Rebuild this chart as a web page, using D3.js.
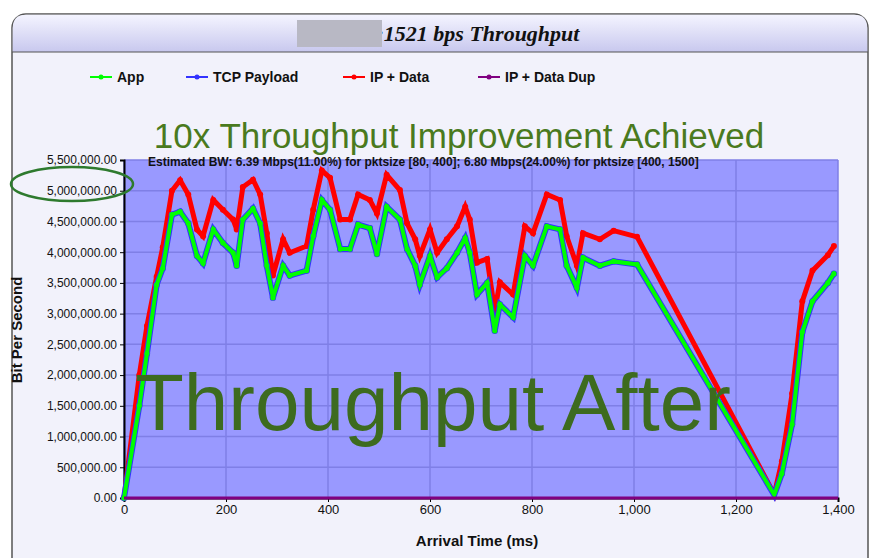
<!DOCTYPE html>
<html><head><meta charset="utf-8">
<script src="https://cdn.jsdelivr.net/npm/d3@7"></script>
<style>body{margin:0;background:#fff}svg{display:block}</style>
</head><body><div id="chart"></div>
<script>
// arrival time (ms) and throughput (bps)
const times = [0,30,45,64,76,94,110,126,143,155,175,194,214,221,233,253,267,280,292,312,325,358,371,388,404,424,443,459,482,496,515,541,555,571,580,600,614,633,653,669,678,692,712,727,737,763,786,802,829,855,868,888,900,933,960,1006,1275,1290,1310,1330,1350,1380,1392]
const ipData = [0,2.0e6,2.8e6,3.6e6,4.08e6,5.0e6,5.17e6,4.94e6,4.37e6,4.26e6,4.85e6,4.69e6,4.53e6,4.37e6,5.06e6,5.18e6,4.94e6,4.31e6,3.62e6,4.21e6,3.99e6,4.10e6,4.69e6,5.33e6,5.21e6,4.53e6,4.53e6,4.94e6,4.85e6,4.63e6,5.26e6,5.01e6,4.47e6,4.21e6,3.94e6,4.37e6,3.99e6,4.21e6,4.42e6,4.74e6,4.53e6,3.83e6,3.89e6,3.04e6,3.51e6,3.31e6,4.42e6,4.31e6,4.94e6,4.85e6,4.26e6,3.78e6,4.31e6,4.21e6,4.35e6,4.25e6,0.06e6,0.6e6,1.7e6,3.2e6,3.7e6,3.95e6,4.1e6]
const app = [0,1.5e6,2.35e6,3.47e6,3.74e6,4.61e6,4.66e6,4.47e6,3.94e6,3.82e6,4.37e6,4.15e6,3.99e6,3.78e6,4.53e6,4.71e6,4.47e6,3.78e6,3.26e6,3.78e6,3.62e6,3.70e6,4.26e6,4.85e6,4.69e6,4.05e6,4.05e6,4.45e6,4.39e6,3.97e6,4.74e6,4.53e6,4.05e6,3.78e6,3.47e6,3.94e6,3.59e6,3.74e6,3.99e6,4.23e6,3.99e6,3.31e6,3.50e6,2.72e6,3.15e6,2.94e6,3.94e6,3.78e6,4.42e6,4.37e6,3.78e6,3.42e6,3.91e6,3.78e6,3.85e6,3.8e6,0.05e6,0.4e6,1.2e6,2.7e6,3.2e6,3.5e6,3.65e6]
const tcpPayload = [0,1.5e6,2.35e6,3.47e6,3.74e6,4.61e6,4.66e6,4.47e6,3.94e6,3.82e6,4.37e6,4.15e6,3.99e6,3.78e6,4.53e6,4.71e6,4.47e6,3.78e6,3.26e6,3.78e6,3.62e6,3.70e6,4.26e6,4.85e6,4.69e6,4.05e6,4.05e6,4.45e6,4.39e6,3.97e6,4.74e6,4.53e6,4.05e6,3.78e6,3.47e6,3.94e6,3.59e6,3.74e6,3.99e6,4.23e6,3.99e6,3.31e6,3.50e6,2.72e6,3.15e6,2.94e6,3.94e6,3.78e6,4.42e6,4.37e6,3.78e6,3.42e6,3.91e6,3.78e6,3.85e6,3.8e6,0.05e6,0.4e6,1.2e6,2.7e6,3.2e6,3.5e6,3.65e6]
const dupTimes = [0,1400]
const dupData = [0,0]
const legendNames = ["App","TCP Payload","IP + Data","IP + Data Dup"]
const legendColors = ["#00ff00","#3333ff","#ff0000","#800080"]

var W = 880, H = 558
var margin = {top: 160, right: 42, bottom: 60, left: 124}
var width = 838 - margin.left, height = 498 - margin.top

var svg = d3.select("#chart").append("svg").attr("width", W).attr("height", H)
  .style("font-family", "'Liberation Sans', Arial, sans-serif")

var defs = svg.append("defs")
var grad = defs.append("linearGradient").attr("id", "tg").attr("x1", 0).attr("y1", 0).attr("x2", 0).attr("y2", 1)
grad.append("stop").attr("offset", "0%").attr("stop-color", "#f4f4ff")
grad.append("stop").attr("offset", "100%").attr("stop-color", "#c8c8ee")

// frame
svg.append("rect").attr("x", 12).attr("y", 14).attr("width", 856).attr("height", 560)
  .attr("rx", 14).attr("fill", "#f2f2fb").attr("stroke", "#555").attr("stroke-width", 1.5)
svg.append("path").attr("d", "M12.75,52 V28 Q12.75,14.75 26,14.75 H854 Q867.25,14.75 867.25,28 V52 Z")
  .attr("fill", "url(#tg)")
svg.append("line").attr("x1", 12).attr("x2", 868).attr("y1", 52).attr("y2", 52).attr("stroke", "#555")
svg.append("text").attr("x", 445).attr("y", 41).attr("text-anchor", "middle")
  .style("font-family", "'Liberation Serif', serif").style("font-style", "italic").style("font-weight", "bold")
  .style("font-size", "22px").attr("fill", "#111").text("10.2          18:1521 bps Throughput")
svg.append("rect").attr("x", 297).attr("y", 20).attr("width", 85).attr("height", 27).attr("fill", "#b8b8c4")

// legend
var lx = [90, 186, 343, 478]
legendNames.forEach(function(n, i) {
  var g = svg.append("g").attr("transform", "translate(" + lx[i] + ",77)")
  g.append("line").attr("x1", 0).attr("x2", 22).attr("stroke", legendColors[i]).attr("stroke-width", 2)
  g.append("circle").attr("cx", 11).attr("r", 2.5).attr("fill", legendColors[i])
  g.append("text").attr("x", 27).attr("y", 5).style("font-size", "14px").style("font-weight", "bold").attr("fill", "#111").text(n)
})

var x = d3.scaleLinear().domain([0, 1400]).range([0, width])
var y = d3.scaleLinear().domain([0, 5500000]).range([height, 0])

var g = svg.append("g").attr("transform", "translate(" + margin.left + "," + margin.top + ")")
g.append("rect").attr("width", width).attr("height", height).attr("fill", "#9999ff")
g.append("g").selectAll("line").data(d3.range(0, 1401, 200)).enter().append("line")
  .attr("x1", d => x(d)).attr("x2", d => x(d)).attr("y1", 0).attr("y2", height).attr("stroke", "#7f7fe6").attr("stroke-width", 1.5)
g.append("g").selectAll("line").data(d3.range(0, 5500001, 500000)).enter().append("line")
  .attr("y1", d => y(d)).attr("y2", d => y(d)).attr("x1", 0).attr("x2", width).attr("stroke", "#7f7fe6").attr("stroke-width", 1.5)

// axes
g.append("g").call(d3.axisLeft(y).tickValues(d3.range(0, 5500001, 500000)).tickFormat(d3.format(",.2f")).tickSize(4))
  .call(a => a.selectAll("text").style("font-size", "12px").attr("fill", "#111"))
  .call(a => a.select(".domain").attr("stroke-width", 2))
g.append("g").attr("transform", "translate(0," + height + ")")
  .call(d3.axisBottom(x).tickValues(d3.range(0, 1401, 200)).tickSize(4))
  .call(a => a.selectAll("text").style("font-size", "13px").attr("fill", "#111"))
  .call(a => a.select(".domain").attr("stroke-width", 2))

var line = d3.line().x(d => x(d[0])).y(d => y(d[1]))
function series(t, v, color, w, r) {
  var pts = t.map((d, i) => [d, v[i]])
  g.append("path").datum(pts).attr("d", line).attr("fill", "none").attr("stroke", color).attr("stroke-width", w)
  g.append("g").selectAll("circle").data(pts.filter(p => p[0] < 1010 || p[0] > 1280)).enter().append("circle")
    .attr("cx", d => x(d[0])).attr("cy", d => y(d[1])).attr("r", r).attr("fill", color)
}
series(times, ipData, "#ff0000", 5, 3)
series(times, tcpPayload, "#3333ff", 6, 3.2)
series(times, app, "#00ff00", 4, 2.6)
series(dupTimes, dupData, "#800080", 3, 0)

g.append("text").attr("x", 24).attr("y", 6).style("font-size", "12px").style("font-weight", "bold")
  .attr("fill", "#111").text("Estimated BW: 6.39 Mbps(11.00%) for pktsize [80, 400]; 6.80 Mbps(24.00%) for pktsize [400, 1500]")

// axis titles
svg.append("text").attr("x", 477).attr("y", 546).attr("text-anchor", "middle").style("font-size", "15px")
  .style("font-weight", "bold").attr("fill", "#111").text("Arrival Time (ms)")
svg.append("text").attr("transform", "translate(22,330) rotate(-90)").attr("text-anchor", "middle")
  .style("font-size", "15px").style("font-weight", "bold").attr("fill", "#111").text("Bit Per Second")

// annotations
svg.append("text").attr("x", 459).attr("y", 148).attr("text-anchor", "middle").style("font-size", "35px")
  .attr("fill", "#4a7a1e").text("10x Throughput Improvement Achieved")
svg.append("text").attr("x", 135).attr("y", 430).style("font-size", "80px")
  .attr("fill", "#3d6b1f").text("Throughput After")
svg.append("ellipse").attr("cx", 72).attr("cy", 184).attr("rx", 61).attr("ry", 17)
  .attr("fill", "none").attr("stroke", "#2e7a2e").attr("stroke-width", 2.5)
</script></body></html>
